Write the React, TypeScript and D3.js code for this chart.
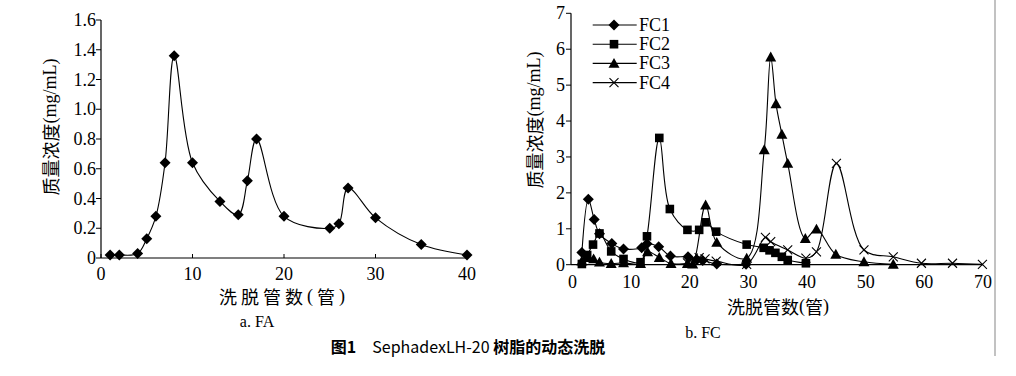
import React from "react";
import * as d3 from "d3";

// ---- Chart a: FA ----
const faTubes = [1, 2, 4, 5, 6, 7, 8, 10, 13, 15, 16, 17, 20, 25, 26, 27, 30, 35, 40];
const faConc = [0.02, 0.02, 0.03, 0.13, 0.28, 0.64, 1.36, 0.64, 0.38, 0.29, 0.52, 0.8, 0.28, 0.2, 0.23, 0.47, 0.27, 0.09, 0.02];
const faYTicks = [0, 0.2, 0.4, 0.6, 0.8, 1.0, 1.2, 1.4, 1.6];
const faXTicks = [0, 10, 20, 30, 40];

// ---- Chart b: FC ----
const fc1Tubes = [1.6, 2.7, 3.7, 4.6, 6.7, 8.7, 11.8, 12.7, 14.7, 16.7, 19.7, 21.2, 22.2, 24.6, 29.6];
const fc1Conc = [0.34, 1.82, 1.26, 0.86, 0.59, 0.44, 0.47, 0.58, 0.5, 0.24, 0.22, 0.14, 0.12, 0.02, 0.01];
const fc2Tubes = [1.6, 2.5, 3.5, 4.6, 6.6, 8.7, 11.6, 12.7, 14.8, 16.6, 19.6, 21.6, 22.7, 24.5, 29.7, 32.6, 33.6, 34.6, 35.7, 36.7, 39.8];
const fc2Conc = [0.02, 0.27, 0.56, 0.87, 0.37, 0.16, 0.07, 0.79, 3.53, 1.55, 0.97, 0.97, 1.18, 0.92, 0.56, 0.47, 0.4, 0.33, 0.22, 0.13, 0.04];
const fc3Tubes = [1.6, 2.7, 3.6, 4.6, 6.6, 8.7, 11.6, 12.8, 14.8, 16.8, 19.6, 20.5, 22.7, 24.6, 29.7, 32.7, 33.8, 34.7, 35.7, 36.7, 39.7, 41.6, 44.9, 49.7, 54.7];
const fc3Conc = [0.1, 0.2, 0.16, 0.07, 0.03, 0.05, 0.03, 0.36, 0.2, 0.03, 0.03, 0.02, 1.66, 0.62, 0.18, 3.2, 5.78, 4.48, 3.63, 2.82, 0.73, 0.99, 0.29, 0.08, 0.01];
const fc4Tubes = [19.6, 20.6, 21.6, 22.6, 24.5, 29.7, 32.9, 33.8, 36.7, 39.8, 41.6, 45, 49.7, 54.7, 59.5, 64.8, 69.9];
const fc4Conc = [0.05, 0.18, 0.2, 0.16, 0.1, 0.01, 0.76, 0.64, 0.41, 0.18, 0.36, 2.82, 0.41, 0.22, 0.04, 0.04, 0.01];
const fcNames = ["FC1", "FC2", "FC3", "FC4"];
const fcYTicks = [0, 1, 2, 3, 4, 5, 6, 7];
const fcXTicks = [0, 10, 20, 30, 40, 50, 60, 70];

const SERIF = "'Liberation Serif', 'Times New Roman', serif";
const CJK = "'Noto Sans CJK SC', sans-serif";

type Shape = "diamond" | "square" | "triangle" | "cross";

function Marker({ x, y, shape }: { x: number; y: number; shape: Shape }) {
  if (shape === "diamond") {
    const r = 5.5;
    return <path d={`M${x},${y - r}L${x + r},${y}L${x},${y + r}L${x - r},${y}Z`} fill="#000" />;
  }
  if (shape === "square") {
    const r = 4.3;
    return <rect x={x - r} y={y - r} width={2 * r} height={2 * r} fill="#000" />;
  }
  if (shape === "triangle") {
    const r = 5.5;
    return <path d={`M${x},${y - r}L${x + r},${y + r * 0.8}L${x - r},${y + r * 0.8}Z`} fill="#000" />;
  }
  const r = 4.5;
  return (
    <path d={`M${x - r},${y - r}L${x + r},${y + r}M${x - r},${y + r}L${x + r},${y - r}`} stroke="#000" strokeWidth={1.1} fill="none" />
  );
}

function Series({ xs, ys, sx, sy, shape }: { xs: number[]; ys: number[]; sx: any; sy: any; shape: Shape }) {
  const pts: [number, number][] = xs.map((v, i) => [sx(v), sy(ys[i])]);
  const line = d3.line().curve(d3.curveCatmullRom.alpha(0.5));
  return (
    <g>
      <path d={line(pts) || ""} fill="none" stroke="#000" strokeWidth={1.1} />
      {pts.map((p, i) => (
        <Marker key={i} x={p[0]} y={p[1]} shape={shape} />
      ))}
    </g>
  );
}

function YLabel({ x, y }: { x: number; y: number }) {
  return (
    <text transform={`translate(${x},${y}) rotate(-90)`} textAnchor="middle" dominantBaseline="central" fontSize={18}>
      <tspan fontFamily={CJK}>质量浓度</tspan>
      <tspan fontFamily={SERIF}>(mg/mL)</tspan>
    </text>
  );
}

function XLabel({ x, y, spacing }: { x: number; y: number; spacing: number }) {
  return (
    <text x={x} y={y} textAnchor="middle" dominantBaseline="central" fontSize={18} letterSpacing={spacing}>
      <tspan fontFamily={CJK}>洗脱管数</tspan>
      <tspan fontFamily={SERIF}>(</tspan>
      <tspan fontFamily={CJK}>管</tspan>
      <tspan fontFamily={SERIF}>)</tspan>
    </text>
  );
}

export default function App() {
  // Chart a scales
  const ax = d3.scaleLinear().domain([0, 40]).range([101, 467]);
  const ay = d3.scaleLinear().domain([0, 1.6]).range([258, 20]);
  // Chart b scales
  const bx = d3.scaleLinear().domain([0, 70]).range([572.5, 983]);
  const by = d3.scaleLinear().domain([0, 7]).range([264.7, 13.3]);

  const fcSeries: { xs: number[]; ys: number[]; shape: Shape }[] = [
    { xs: fc1Tubes, ys: fc1Conc, shape: "diamond" },
    { xs: fc2Tubes, ys: fc2Conc, shape: "square" },
    { xs: fc3Tubes, ys: fc3Conc, shape: "triangle" },
    { xs: fc4Tubes, ys: fc4Conc, shape: "cross" },
  ];

  return (
    <svg width={1016} height={376} style={{ position: "absolute", left: 0, top: 0, background: "#fff" }}>
      <rect width={1016} height={376} fill="#fff" />
      {/* ---- Chart a ---- */}
      <g>
        <line x1={ax(0)} x2={ax(0)} y1={ay(1.6)} y2={ay(0)} stroke="#000" strokeWidth={1.2} />
        <line x1={ax(0)} x2={ax(40)} y1={ay(0)} y2={ay(0)} stroke="#000" strokeWidth={1.2} />
        {faYTicks.map((t) => (
          <g key={t}>
            <line x1={ax(0) - 5} x2={ax(0)} y1={ay(t)} y2={ay(t)} stroke="#000" />
            <text x={ax(0) - 5} y={ay(t)} textAnchor="end" dominantBaseline="central" fontFamily={SERIF} fontSize={18}>
              {t === 0 ? "0" : t.toFixed(1)}
            </text>
          </g>
        ))}
        {faXTicks.map((t) => (
          <g key={t}>
            <line x1={ax(t)} x2={ax(t)} y1={ay(0)} y2={ay(0) - 4} stroke="#000" />
            <text x={ax(t)} y={ay(0) + 22} textAnchor="middle" fontFamily={SERIF} fontSize={18}>
              {t}
            </text>
          </g>
        ))}
        <Series xs={faTubes} ys={faConc} sx={ax} sy={ay} shape="diamond" />
        <YLabel x={50} y={127} />
        <XLabel x={284} y={296} spacing={4} />
        <text x={257} y={327} textAnchor="middle" fontFamily={SERIF} fontSize={16}>
          a. FA
        </text>
      </g>

      {/* ---- Chart b ---- */}
      <g>
        <line x1={571} x2={571} y1={by(7)} y2={by(0)} stroke="#000" strokeWidth={1.2} />
        <line x1={571} x2={bx(70)} y1={by(0)} y2={by(0)} stroke="#000" strokeWidth={1.2} />
        {fcYTicks.map((t) => (
          <g key={t}>
            <line x1={566} x2={571} y1={by(t)} y2={by(t)} stroke="#000" />
            <text x={565} y={by(t)} textAnchor="end" dominantBaseline="central" fontFamily={SERIF} fontSize={18}>
              {t}
            </text>
          </g>
        ))}
        {fcXTicks.map((t) => (
          <g key={t}>
            <text x={bx(t)} y={by(0) + 23} textAnchor="middle" fontFamily={SERIF} fontSize={18}>
              {t}
            </text>
          </g>
        ))}
        {fcSeries.map((s, i) => (
          <Series key={i} xs={s.xs} ys={s.ys} sx={bx} sy={by} shape={s.shape} />
        ))}
        {fcNames.map((n, i) => {
          const y = 25 + i * 19.2;
          return (
            <g key={n}>
              <line x1={592.7} x2={636.7} y1={y} y2={y} stroke="#000" strokeWidth={1.1} />
              <Marker x={614} y={y} shape={fcSeries[i].shape} />
              <text x={639} y={y} dominantBaseline="central" fontFamily={SERIF} fontSize={18}>
                {n}
              </text>
            </g>
          );
        })}
        <YLabel x={534} y={120} />
        <XLabel x={778} y={306} spacing={0} />
        <text x={703} y={338} textAnchor="middle" fontFamily={SERIF} fontSize={16}>
          b. FC
        </text>
      </g>

      {/* right border */}
      <line x1={995} x2={995} y1={0} y2={356} stroke="#999" strokeWidth={1.2} />

      {/* caption */}
      <text x={468} y={353} textAnchor="middle" fontFamily={CJK} fontSize={16}>
        <tspan fontWeight="bold">图1</tspan>
        <tspan dx={16}>SephadexLH-20 </tspan>
        <tspan fontWeight="bold">树脂的动态洗脱</tspan>
      </text>
    </svg>
  );
}
